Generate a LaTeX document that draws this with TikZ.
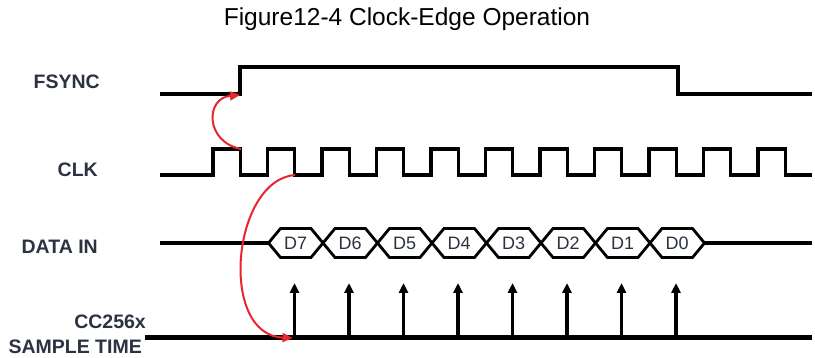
\documentclass[tikz,border=0pt]{standalone}
\usepackage{fontspec}
\setmainfont{Liberation Sans}
\usepackage{xcolor}
\usetikzlibrary{arrows.meta}
\definecolor{kred}{HTML}{E8262E}
\definecolor{ktext}{HTML}{2B3242}

\begin{document}
\begin{tikzpicture}[x=1pt, y=-1pt,
    sig/.style={line width=3.2pt, line join=miter},
    hexbox/.style={line width=2.8pt, line join=miter},
    sampbase/.style={line width=5pt},
    samparrow/.style={line width=3.2pt, -{Triangle[length=10pt, width=9pt]}},
    edgearrow/.style={kred, line width=2pt, -{Triangle[length=10pt, width=9pt]}},
    siglabel/.style={font=\fontsize{19.5}{21}\selectfont\bfseries, text=ktext, anchor=east, inner sep=0pt},
    bitlabel/.style={font=\fontsize{18}{20}\selectfont, text=ktext, inner sep=0pt}]

  \fill[white] (0,0) rectangle (815,358);
  \useasboundingbox (0,0) rectangle (815,358);

  %% Title
  \node[font=\fontsize{24.5}{28}\selectfont] (title) at (407,19) {Figure12-4 Clock-Edge Operation};

  %% Signal names
  \node[siglabel] (fsync) at (100,82) {FSYNC};
  \node[siglabel] (clk) at (98,170) {CLK};
  \node[siglabel] (datain) at (98,247) {DATA IN};
  \node[siglabel] (cc) at (146,322) {CC256x};
  \node[siglabel] (samptime) at (142,347) {SAMPLE TIME};

  %% FSYNC: high from 240 to 678
  \draw[sig] (160,94) -- (240,94) -- (240,67) -- (678,67) -- (678,94) -- (812,94);
  \coordinate (fsrise) at (240,95);

  %% CLK: 11 pulses, period 54.5
  \draw[sig] (160,175)
    \foreach \k in {0,...,10}{ -- ({213+54.5*\k},175) -- ++(0,-26) -- ++(27.25,0) -- ++(0,26) }
    -- (812,175);
  \coordinate (clkfalla) at (241,149);
  \coordinate (clkfallb) at (295,175);

  %% DATA IN: D7 ... D0
  \draw[sig] (160,243) -- (268.5,243);
  \foreach \k/\bit in {0/7,1/6,2/5,3/4,4/3,5/2,6/1,7/0}{
    \draw[hexbox] ({268.5+54.5*\k},243) -- ++(12,-14.5) -- ++(30.5,0) -- ++(12,14.5)
      -- ++(-12,14.5) -- ++(-30.5,0) -- cycle;
    \node[bitlabel] (d\bit) at ({295.75+54.5*\k},243) {D\bit};
  }
  \draw[sig] (704.5,243) -- (812,243);

  %% Sample time: arrows on falling clock edges
  \draw[sampbase] (145,338) -- (812,338);
  \foreach \k in {1,...,8}{
    \coordinate (samp\k) at ({240+54.5*\k},338);
    \draw[samparrow] (samp\k) -- ++(0,-55);
  }

  %% Edge relations
  \draw[edgearrow] (clkfalla) .. controls (205,142) and (205,98) .. (fsrise);
  \draw[edgearrow] (clkfallb) .. controls (232,180) and (218,335) .. ([xshift=-2pt]samp1);

\end{tikzpicture}
\end{document}
